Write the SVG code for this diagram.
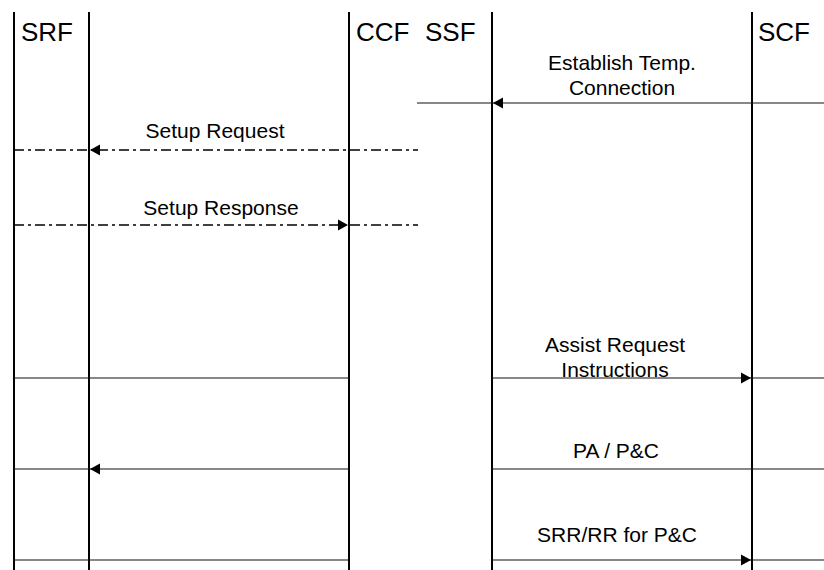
<svg xmlns="http://www.w3.org/2000/svg" width="824" height="570" viewBox="0 0 824 570">
<defs>
<style>
.life{stroke:#000;stroke-width:2;fill:none}
.msg{stroke:#111;stroke-width:1.2;fill:none}
.dd{stroke:#000;stroke-width:1.4;fill:none;stroke-dasharray:10 4 3 4}
.hd{font-family:"Liberation Sans",Arial,sans-serif;font-size:26px;fill:#000}
.lb{font-family:"Liberation Sans",Arial,sans-serif;font-size:21px;fill:#000;text-anchor:middle}
.ah{fill:#000}
</style>
</defs>
<rect width="824" height="570" fill="#fff"/>
<g id="SRF"><line class="life" x1="14" y1="12" x2="14" y2="570"/><text class="hd" x="21" y="41">SRF</text></g>
<g id="SRF2"><line class="life" x1="89" y1="12" x2="89" y2="570"/></g>
<g id="CCF"><line class="life" x1="349" y1="12" x2="349" y2="570"/><text class="hd" x="356" y="41">CCF</text></g>
<g id="SSF"><line class="life" x1="492" y1="12" x2="492" y2="570"/><text class="hd" x="425" y="41">SSF</text></g>
<g id="SCF"><line class="life" x1="752" y1="12" x2="752" y2="570"/><text class="hd" x="758" y="41">SCF</text></g>
<g id="connectors">
<line class="msg" x1="417" y1="103" x2="824" y2="103"/>
<path class="ah" d="M493,103 L503,97.5 L503,108.5 Z"/>
<text class="lb" x="622" y="70">Establish Temp.</text>
<text class="lb" x="622" y="95">Connection</text>
<line class="dd" x1="14" y1="150" x2="418" y2="150"/>
<path class="ah" d="M90,150 L100,144.5 L100,155.5 Z"/>
<text class="lb" x="215" y="138">Setup Request</text>
<line class="dd" x1="14" y1="225" x2="418" y2="225"/>
<path class="ah" d="M348,225 L338,219.5 L338,230.5 Z"/>
<text class="lb" x="221" y="215">Setup Response</text>
<line class="msg" x1="14" y1="378" x2="349" y2="378"/>
<line class="msg" x1="492" y1="378" x2="824" y2="378"/>
<path class="ah" d="M751,378 L741,372.5 L741,383.5 Z"/>
<text class="lb" x="615" y="352">Assist Request</text>
<text class="lb" x="615" y="377">Instructions</text>
<line class="msg" x1="14" y1="469" x2="349" y2="469"/>
<path class="ah" d="M90,469 L100,463.5 L100,474.5 Z"/>
<line class="msg" x1="492" y1="469" x2="824" y2="469"/>
<text class="lb" x="616" y="458">PA / P&amp;C</text>
<line class="msg" x1="14" y1="560" x2="349" y2="560"/>
<line class="msg" x1="492" y1="560" x2="824" y2="560"/>
<path class="ah" d="M751,560 L741,554.5 L741,565.5 Z"/>
<text class="lb" x="617" y="542">SRR/RR for P&amp;C</text>
</g>
</svg>
